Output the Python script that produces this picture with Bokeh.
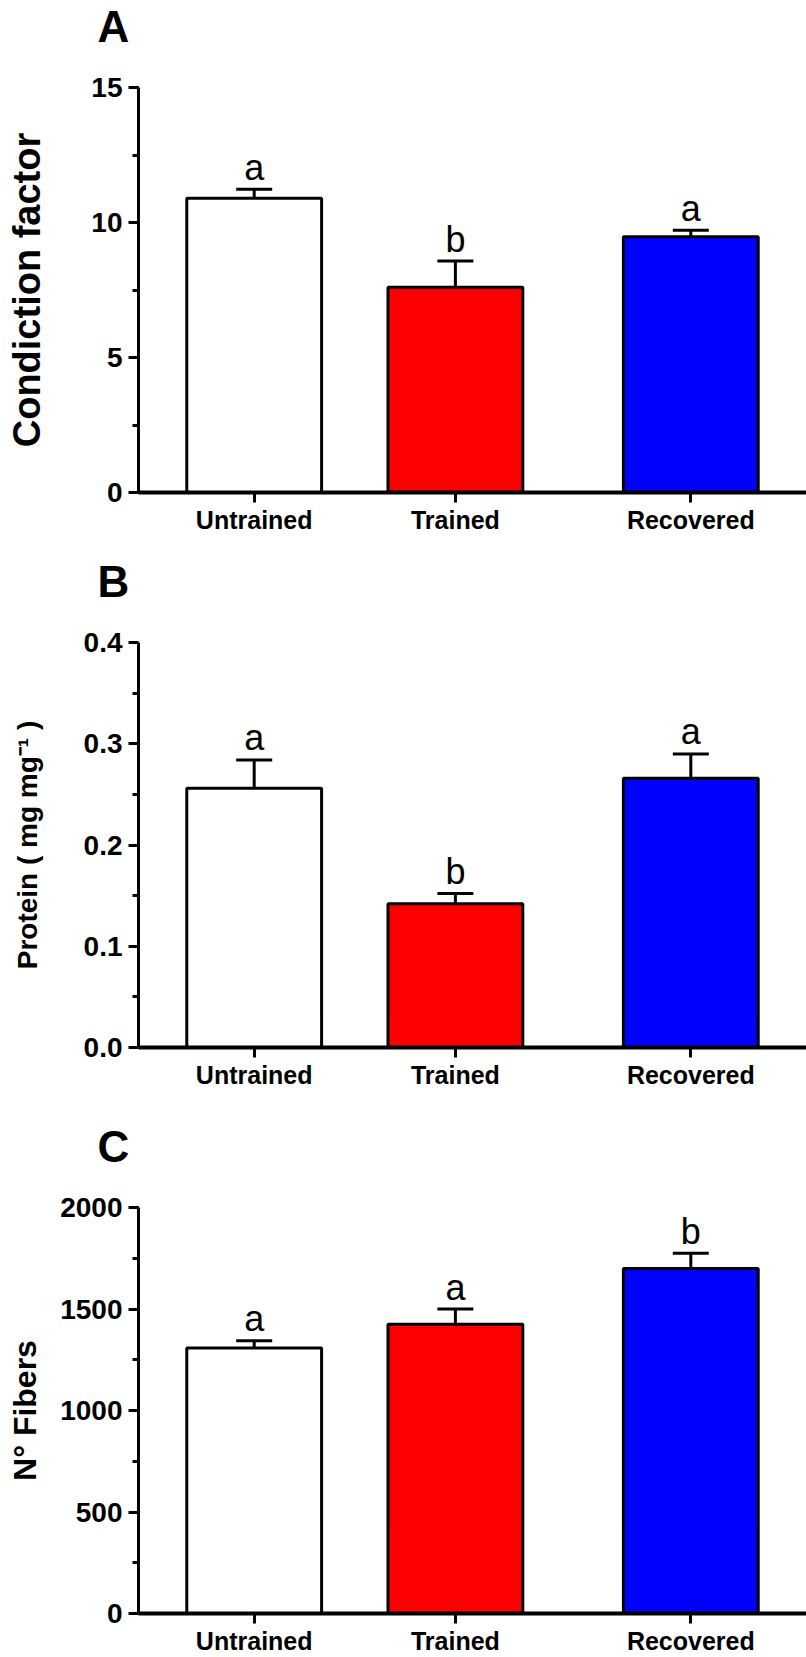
from bokeh.plotting import figure
from bokeh.models import (FactorRange, Range1d, SingleIntervalTicker, FixedTicker, Title,
                          ColumnDataSource, Whisker, TeeHead, NumeralTickFormatter)
from bokeh.layouts import column
from bokeh.embed import file_html
from bokeh.resources import INLINE
from bokeh.core.properties import value

# ---------------- data ----------------
groups = ["Untrained", "Trained", "Recovered"]
group_blocks = ["", "", " "]          # Untrained/Trained together, Recovered apart
bar_colors = ["#FFFFFF", "#FF0000", "#0000FF"]

cond_mean = [10.9, 7.6, 9.47]
cond_err = [0.33, 0.97, 0.24]
cond_letters = ["a", "b", "a"]

prot_mean = [0.256, 0.142, 0.266]
prot_err = [0.028, 0.010, 0.024]
prot_letters = ["a", "b", "a"]

fib_mean = [1308, 1425, 1700]
fib_err = [35, 75, 75]
fib_letters = ["a", "a", "b"]

prot_ticks = [0.0, 0.1, 0.2, 0.3, 0.4]
prot_minor = [0.05, 0.15, 0.25, 0.35]

FONT = "Liberation Sans"


def panel(letter, ylabel, means, errs, letters, yr, ticker, fmt,
          label_size, label_standoff, tb, bb, fh=405):
    factors = list(zip(group_blocks, groups))
    xr = FactorRange(factors=factors, factor_padding=0.0, group_padding=0.17,
                     range_padding=0.075, range_padding_units="absolute")
    p = figure(x_range=xr, y_range=Range1d(*yr), frame_width=668, frame_height=fh,
               min_border_left=138, min_border_right=0, min_border_top=tb,
               min_border_bottom=bb, output_backend="svg", toolbar_location=None,
               outline_line_color=None, background_fill_color="white",
               border_fill_color="white", title=letter)
    p.title.text_font = FONT
    p.title.text_font_size = "44px"
    p.title.text_font_style = "bold"
    p.title.text_color = "black"
    p.title.align = "left"
    p.title.vertical_align = "top"
    p.title.offset = -41
    p.title.standoff = 0
    # empty spacer between the panel letter and the plot frame
    p.add_layout(Title(text=" ", text_font_size="2px", standoff=31), "above")
    p.grid.visible = False

    upper = [m + e for m, e in zip(means, errs)]
    src = ColumnDataSource(dict(x=factors, top=means, upper=upper,
                                color=bar_colors, letter=letters))
    p.vbar(x="x", top="top", bottom=0, width=0.67, source=src, fill_color="color",
           line_color="black", line_width=3)
    p.add_layout(Whisker(base="x", lower="top", upper="upper", source=src,
                         lower_head=None,
                         upper_head=TeeHead(size=36, line_width=3, line_color="black"),
                         line_width=3, line_color="black", level="glyph"))
    p.text(x="x", y="upper", text="letter", source=src, text_align="center",
           text_baseline="middle", y_offset=-22, text_font_size="36px",
           text_font=value(FONT), text_color="black")

    ya = p.yaxis[0]
    ya.ticker = ticker
    if fmt is not None:
        ya.formatter = fmt
    ya.axis_line_width = 3
    ya.major_tick_line_width = 3
    ya.minor_tick_line_width = 3
    ya.major_tick_out = 10
    ya.major_tick_in = 0
    ya.minor_tick_out = 6
    ya.minor_tick_in = 0
    ya.major_label_standoff = 6
    ya.major_label_text_font = FONT
    ya.major_label_text_font_size = "28px"
    ya.major_label_text_font_style = "bold"
    ya.major_label_text_color = "black"
    ya.axis_label = ylabel
    ya.axis_label_text_font = FONT
    ya.axis_label_text_font_size = label_size
    ya.axis_label_text_font_style = "bold"
    ya.axis_label_text_color = "black"
    ya.axis_label_standoff = label_standoff

    xa = p.xaxis[0]
    xa.axis_line_width = 4
    xa.major_tick_line_width = 3
    xa.major_tick_out = 10
    xa.major_tick_in = 0
    xa.major_label_standoff = 3
    xa.major_label_text_font = FONT
    xa.major_label_text_font_size = "25px"
    xa.major_label_text_font_style = "bold"
    xa.major_label_text_color = "black"
    xa.group_text_font_size = "1px"
    xa.group_text_alpha = 0
    xa.separator_line_alpha = 0
    return p


pA = panel("A", "Condiction factor", cond_mean, cond_err, cond_letters, (0, 15),
           SingleIntervalTicker(interval=5, num_minor_ticks=2), None,
           "38px", 40, 87, 64)
pB = panel("B", "Protein ( mg mg\u207b\u00b9 )", prot_mean, prot_err, prot_letters,
           (0, 0.4), FixedTicker(ticks=prot_ticks, minor_ticks=prot_minor),
           NumeralTickFormatter(format="0.0"), "28px", 38, 85, 74)
pC = panel("C", "N\u00b0 Fibers", fib_mean, fib_err, fib_letters, (0, 2000),
           SingleIntervalTicker(interval=500, num_minor_ticks=2), None,
           "32px", 14, 86, 44, fh=406)

layout = column(pA, pB, pC, spacing=0)
open("out.html", "w").write(file_html(layout, INLINE))
